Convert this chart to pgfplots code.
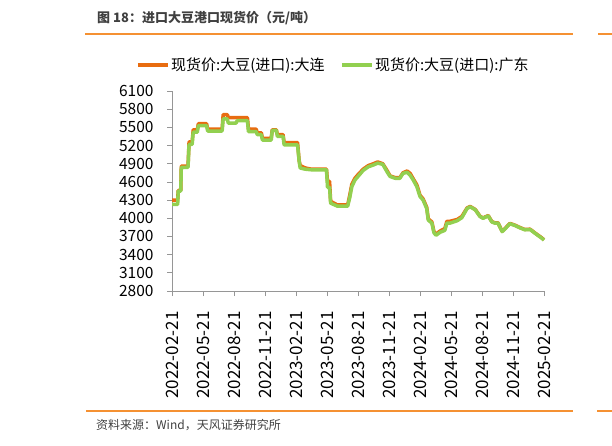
\documentclass[border=0pt]{standalone}
\usepackage{pgfplots}
\pgfplotsset{compat=1.18}
\usepackage{fontspec}
\setmainfont{Noto Sans CJK SC}
\definecolor{dl}{RGB}{232,108,16}
\definecolor{gd}{RGB}{146,208,80}
\definecolor{rule}{RGB}{245,145,50}
\definecolor{tgray}{RGB}{64,64,64}
\definecolor{agray}{RGB}{150,150,150}
\begin{document}
\begin{tikzpicture}[x=1pt,y=1pt]
\useasboundingbox (0,0) rectangle (612pt,445pt);
\begin{scope}
\clip (0,0) rectangle (612pt,445pt);
% title
\node[anchor=west,text=tgray,font=\fontsize{13}{14}\selectfont\bfseries,inner sep=0] at (97pt,427pt) {图 18：进口大豆港口现货价（元/吨）};
\draw[rule,line width=1.5pt] (85pt,411pt) -- (573pt,411pt);
\draw[rule,line width=1.5pt] (598pt,411pt) -- (620pt,411pt);
% source
\draw[rule,line width=1.5pt] (86pt,34pt) -- (573pt,34pt);
\draw[rule,line width=1.5pt] (597pt,34pt) -- (620pt,34pt);
\node[anchor=west,text=tgray,font=\fontsize{12}{13}\selectfont,inner sep=0] at (96pt,20pt) {资料来源：Wind，天风证券研究所};
\end{scope}
\begin{axis}[
  at={(172pt,154pt)}, anchor=south west,
  width=372pt, height=200pt, scale only axis,
  xmin=0, xmax=36, ymin=2800, ymax=6100,
  axis lines=left, axis line style={-,agray,line width=0.8pt},
  xtick={0,3,...,36},
  xticklabels={2022-02-21,2022-05-21,2022-08-21,2022-11-21,2023-02-21,2023-05-21,2023-08-21,2023-11-21,2024-02-21,2024-05-21,2024-08-21,2024-11-21,2025-02-21},
  ytick={2800,3100,...,6100},
  tick align=outside, major tick length=5pt,
  tick style={agray,line width=0.8pt},
  /pgf/number format/assume math mode=true,
  /pgf/number format/1000 sep={},
  yticklabel style={font=\fontsize{15.5}{15.5}\selectfont, text=black, anchor=east, xshift=-10pt},
  xticklabel style={font=\fontsize{17}{17}\selectfont, text=black, rotate=90, anchor=east, xshift=-12pt},
  legend style={at={(0.433,1.13)}, anchor=center, draw=none, fill=none,
    font=\fontsize{15}{15}\selectfont, legend columns=2,
    nodes={inner sep=1.5pt},
    /tikz/every even column/.append style={column sep=14pt}},
  legend image code/.code={\draw[#1, line width=3.5pt] (0pt,0pt) -- (30pt,0pt);},
  legend cell align=left,
  clip=false,
]
\addplot[dl, line width=3.5pt, line join=round] coordinates {
(0,4300)(0.55,4300)(0.6,4460)(0.85,4460)(0.9,4860)(1.55,4860)(1.65,5260)(1.95,5260)(2.05,5460)(2.45,5460)(2.55,5560)(3.35,5560)(3.45,5470)(4.85,5470)(4.95,5710)(5.35,5710)(5.45,5660)(7.3,5660)(7.4,5470)(8.15,5470)(8.25,5410)(8.65,5410)(8.75,5320)(9.6,5320)(9.7,5460)(10.1,5460)(10.2,5380)(10.75,5380)(10.85,5250)(12.15,5250)(12.3,4960)(12.4,4870)(12.9,4830)(13.5,4810)(14.95,4810)(15.05,4610)(15.25,4610)(15.35,4280)(16.0,4220)(17.0,4220)(17.2,4380)(17.4,4560)(17.7,4660)(18.0,4720)(18.5,4810)(19.0,4870)(19.5,4900)(19.9,4930)(20.4,4900)(20.8,4790)(21.1,4700)(21.6,4670)(22.05,4670)(22.35,4750)(22.75,4780)(23.05,4740)(23.35,4650)(23.7,4550)(24.0,4380)(24.3,4320)(24.65,4180)(24.8,3990)(25.15,3940)(25.35,3780)(25.55,3740)(25.95,3790)(26.4,3830)(26.6,3950)(26.9,3950)(27.6,3980)(28.05,4030)(28.55,4170)(28.85,4195)(29.35,4145)(29.8,4035)(30.1,4005)(30.6,4045)(30.95,3945)(31.25,3925)(31.55,3925)(31.95,3785)(32.25,3835)(32.7,3915)(33.2,3885)(33.7,3845)(34.15,3815)(34.65,3820)(35.15,3755)(35.8,3675)(36,3645)
};
\addlegendentry{现货价:大豆(进口):大连}
\addplot[gd, line width=3.5pt, line join=round] coordinates {
(0,4230)(0.55,4230)(0.6,4450)(0.85,4450)(0.9,4840)(1.55,4840)(1.65,5220)(1.95,5220)(2.05,5420)(2.45,5420)(2.55,5530)(3.35,5530)(3.45,5440)(4.85,5440)(4.95,5640)(5.35,5640)(5.45,5570)(6.2,5570)(6.3,5610)(7.3,5610)(7.4,5430)(8.15,5430)(8.25,5380)(8.65,5380)(8.75,5290)(9.6,5290)(9.7,5450)(10.1,5450)(10.2,5350)(10.75,5350)(10.85,5210)(12.15,5210)(12.3,4950)(12.4,4830)(12.9,4810)(13.5,4800)(14.95,4800)(15.05,4510)(15.25,4510)(15.35,4250)(16.0,4200)(17.0,4200)(17.2,4340)(17.4,4520)(17.7,4630)(18.0,4690)(18.5,4790)(19.0,4850)(19.5,4880)(19.9,4910)(20.4,4890)(20.8,4770)(21.1,4690)(21.6,4660)(22.05,4660)(22.35,4740)(22.75,4760)(23.05,4710)(23.35,4630)(23.7,4520)(24.0,4360)(24.3,4300)(24.65,4160)(24.8,3970)(25.15,3920)(25.35,3760)(25.55,3720)(25.95,3770)(26.4,3800)(26.6,3920)(26.9,3920)(27.6,3960)(28.05,4010)(28.55,4160)(28.85,4190)(29.35,4140)(29.8,4030)(30.1,4000)(30.6,4040)(30.95,3940)(31.25,3920)(31.55,3920)(31.95,3780)(32.25,3830)(32.7,3910)(33.2,3880)(33.7,3840)(34.15,3810)(34.65,3815)(35.15,3750)(35.8,3670)(36,3640)
};
\addlegendentry{现货价:大豆(进口):广东}
\end{axis}
\end{tikzpicture}
\end{document}
